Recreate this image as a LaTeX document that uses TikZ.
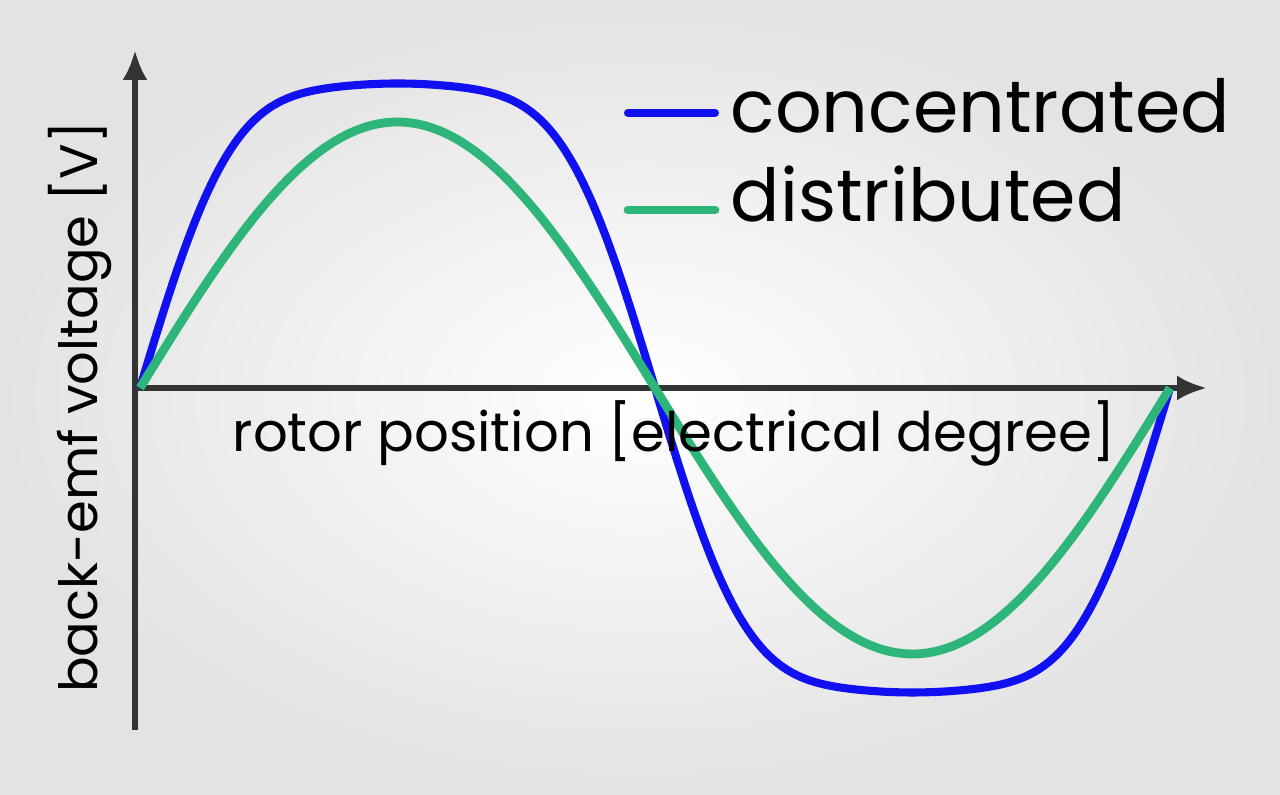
\documentclass[tikz,border=0pt]{standalone}
\usepackage{fontspec}
\setmainfont{Poppins}
\usetikzlibrary{positioning}
\usetikzlibrary{arrows.meta}
\definecolor{axisgray}{HTML}{333333}
\definecolor{concblue}{HTML}{1010F0}
\definecolor{distgreen}{HTML}{2DB57A}
\begin{document}
\begin{tikzpicture}[
  axis/.style={draw=axisgray, line width=1.6pt, -{Latex[length=3mm,width=2.5mm]}},
  curve/.style={line join=round, smooth},
  legtext/.style={font=\fontsize{20.8}{24}\selectfont, anchor=base west, inner sep=0pt},
  lbl/.style={font=\fontsize{15}{18}\selectfont, inner sep=0pt}
]
% background
\shade[inner color=white, outer color=black!11] (0,0) rectangle (12.8,7.95);
\useasboundingbox (0,0) rectangle (12.8,7.95);

% axes
\coordinate (o) at (1.35,4.07);
\coordinate (ybot) at (1.35,0.65);
\coordinate (ytop) at (1.35,7.45);
\coordinate (xtip) at (12.07,4.07);
\draw[axisgray, line width=1.6pt] (o) -- (ybot);
\draw[axis] (o) -- (ytop);
\draw[axis] (o) -- (xtip);

% curves
\draw[curve, concblue, line width=2.3pt, samples=120, domain=0:360]
  plot ({1.40+\x/360*10.30},{4.07+3.5*(sin(\x)+0.15*sin(3*\x)+0.02*sin(5*\x))});
\draw[curve, distgreen, line width=2.5pt, samples=90, domain=0:360]
  plot ({1.40+\x/360*10.30},{4.07+2.66*sin(\x)});

% legend
\coordinate (l1a) at (6.28,6.82);
\coordinate (l1b) at (7.15,6.82);
\coordinate (l2a) at (6.28,5.85);
\coordinate (l2b) at (7.15,5.85);
\draw[concblue, line width=2.3pt, line cap=round] (l1a) -- (l1b);
\draw[distgreen, line width=2.5pt, line cap=round] (l2a) -- (l2b);
\node[legtext] (conc) at (7.30,6.62) {concentrated};
\node[legtext] (dist) at (7.30,5.73) {distributed};

% axis labels
\node[lbl, font=\fontsize{15.5}{18}\selectfont] (xlab) at (6.74,3.62) {rotor position [electrical degree]};
\node[lbl, rotate=90] (ylab) at (0.80,3.88) {back-emf voltage [V]};
\end{tikzpicture}
\end{document}
